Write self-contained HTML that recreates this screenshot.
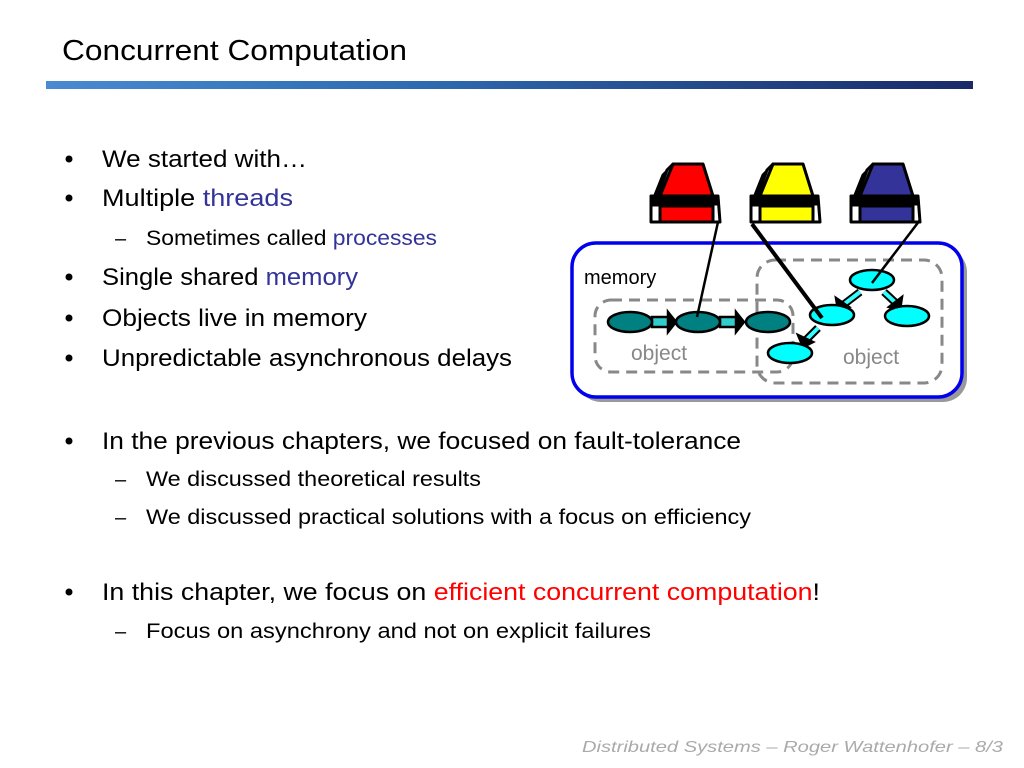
<!DOCTYPE html>
<html><head><meta charset="utf-8"><style>html,body{margin:0;padding:0;background:#fff}svg{display:block}</style></head>
<body>
<svg width="1024" height="768" viewBox="0 0 1024 768" xmlns="http://www.w3.org/2000/svg" font-family="Liberation Sans, sans-serif">
<defs>
<linearGradient id="bar" x1="0" x2="1" y1="0" y2="0">
<stop offset="0" stop-color="#4a8ad0"/><stop offset="0.4" stop-color="#2e6bb0"/><stop offset="1" stop-color="#1a2a68"/>
</linearGradient>
</defs>
<text x="62" y="60" font-size="29" fill="#000" textLength="345" lengthAdjust="spacingAndGlyphs">Concurrent Computation</text>
<rect x="46" y="81" width="927" height="8" fill="url(#bar)"/>

<g font-size="24" fill="#000">
<circle cx="69" cy="159" r="3.5"/><text x="102" y="167" textLength="205" lengthAdjust="spacingAndGlyphs">We started with…</text>
<circle cx="69" cy="198" r="3.5"/><text x="102" y="206" textLength="191" lengthAdjust="spacingAndGlyphs">Multiple <tspan fill="#333399">threads</tspan></text>
<text x="115" y="245" font-size="20">–</text><text x="146" y="245" font-size="21" textLength="291" lengthAdjust="spacingAndGlyphs">Sometimes called <tspan fill="#333399">processes</tspan></text>
<circle cx="69" cy="277" r="3.5"/><text x="102" y="285" textLength="256" lengthAdjust="spacingAndGlyphs">Single shared <tspan fill="#333399">memory</tspan></text>
<circle cx="69" cy="318" r="3.5"/><text x="102" y="326" textLength="265" lengthAdjust="spacingAndGlyphs">Objects live in memory</text>
<circle cx="69" cy="358" r="3.5"/><text x="102" y="366" textLength="410" lengthAdjust="spacingAndGlyphs">Unpredictable asynchronous delays</text>
<circle cx="69" cy="441" r="3.5"/><text x="102" y="449" textLength="639" lengthAdjust="spacingAndGlyphs">In the previous chapters, we focused on fault-tolerance</text>
<text x="115" y="486" font-size="20">–</text><text x="146" y="486" font-size="21" textLength="335" lengthAdjust="spacingAndGlyphs">We discussed theoretical results</text>
<text x="115" y="524" font-size="20">–</text><text x="146" y="524" font-size="21" textLength="605" lengthAdjust="spacingAndGlyphs">We discussed practical solutions with a focus on efficiency</text>
<circle cx="69" cy="592" r="3.5"/><text x="102" y="600" textLength="718" lengthAdjust="spacingAndGlyphs">In this chapter, we focus on <tspan fill="#ff0000">efficient concurrent computation</tspan>!</text>
<text x="115" y="638" font-size="20">–</text><text x="146" y="638" font-size="21" textLength="505" lengthAdjust="spacingAndGlyphs">Focus on asynchrony and not  on explicit failures</text>
</g>

<text x="582" y="752" font-size="16" font-style="italic" fill="#aaaaaa" textLength="421" lengthAdjust="spacingAndGlyphs">Distributed Systems  –  Roger Wattenhofer  –  8/3</text>

<!-- diagram -->
<rect x="577" y="248" width="390" height="154" rx="24" fill="#999"/>
<rect x="572" y="243" width="390" height="154" rx="24" fill="#fff" stroke="#0000ee" stroke-width="3.5"/>
<text x="584" y="284" font-size="20" fill="#000">memory</text>
<rect x="595" y="300" width="198" height="72" rx="16" fill="none" stroke="#888" stroke-width="3" stroke-dasharray="11,7"/>
<rect x="757" y="260" width="185" height="123" rx="18" fill="none" stroke="#888" stroke-width="3" stroke-dasharray="11,7"/>
<text x="631" y="360" font-size="21" fill="#888">object</text>
<text x="843" y="364" font-size="21" fill="#888">object</text>

<g stroke="#000" stroke-width="2.5">
<rect x="652" y="317" width="18" height="10" fill="#33cccc"/>
<path d="M668 312 L676 322 L668 332Z" fill="#000"/>
<rect x="720" y="317" width="18" height="10" fill="#33cccc"/>
<path d="M736 312 L744 322 L736 332Z" fill="#000"/>
<ellipse cx="630" cy="322" rx="22" ry="10" fill="#008080"/>
<ellipse cx="698" cy="322" rx="22" ry="10" fill="#008080"/>
<ellipse cx="768" cy="322" rx="22" ry="10" fill="#008080"/>
</g>
<g stroke="#000" stroke-width="2.5">
<line x1="860" y1="292" x2="843" y2="305" stroke="#000" stroke-width="8"/>
<line x1="860" y1="292" x2="843" y2="305" stroke="#33ffff" stroke-width="4"/>
<path d="M836 298 L838 310 L849 307Z" fill="#000"/>
<line x1="884" y1="292" x2="898" y2="305" stroke="#000" stroke-width="8"/>
<line x1="884" y1="292" x2="898" y2="305" stroke="#33ffff" stroke-width="4"/>
<path d="M902 297 L900 310 L889 307Z" fill="#000"/>
<line x1="818" y1="328" x2="806" y2="340" stroke="#000" stroke-width="8"/>
<line x1="818" y1="328" x2="806" y2="340" stroke="#33ffff" stroke-width="4"/>
<path d="M798 335 L803 347 L813 342Z" fill="#000"/>
<ellipse cx="872" cy="280" rx="22" ry="10" fill="#00ffff"/>
<ellipse cx="832" cy="315" rx="22" ry="10" fill="#00ffff"/>
<ellipse cx="907" cy="316" rx="22" ry="10" fill="#00ffff"/>
<ellipse cx="790" cy="353" rx="22" ry="10" fill="#00ffff"/>
</g>

<g stroke="#000" stroke-width="3" stroke-linejoin="round">
<g>
<path d="M663 175 L670 168 L694 168 L708 205 L651 205Z" fill="#fff"/>
<path d="M667 170 L673 164 L699 164 L713 200 L656 200Z" fill="#fff"/>
<path d="M673 164 L703 164 L713 196 L660 196Z" fill="#ff0000"/>
<rect x="651" y="196" width="67" height="8" fill="#000"/>
<rect x="660" y="206" width="53" height="16" fill="#ff0000"/>
<path d="M651 196 L651 222 L660 222 M718 196 L720 222 L713 222" fill="none"/>
</g>
<g>
<path d="M763 175 L770 168 L794 168 L808 205 L751 205Z" fill="#fff"/>
<path d="M767 170 L773 164 L799 164 L813 200 L756 200Z" fill="#fff"/>
<path d="M773 164 L803 164 L813 196 L760 196Z" fill="#ffff00"/>
<rect x="751" y="196" width="67" height="8" fill="#000"/>
<rect x="760" y="206" width="53" height="16" fill="#ffff00"/>
<path d="M751 196 L751 222 L760 222 M818 196 L820 222 L813 222" fill="none"/>
</g>
<g>
<path d="M863 175 L870 168 L894 168 L908 205 L851 205Z" fill="#fff"/>
<path d="M867 170 L873 164 L899 164 L913 200 L856 200Z" fill="#fff"/>
<path d="M873 164 L903 164 L913 196 L860 196Z" fill="#333399"/>
<rect x="851" y="196" width="67" height="8" fill="#000"/>
<rect x="860" y="206" width="53" height="16" fill="#333399"/>
<path d="M851 196 L851 222 L860 222 M918 196 L920 222 L913 222" fill="none"/>
</g>
</g>
<line x1="718" y1="222" x2="697" y2="317" stroke="#000" stroke-width="2.5"/>
<line x1="752" y1="224" x2="822" y2="318" stroke="#000" stroke-width="4"/>
<line x1="920" y1="220" x2="872" y2="283" stroke="#000" stroke-width="2.5"/>
</svg>
</body></html>
